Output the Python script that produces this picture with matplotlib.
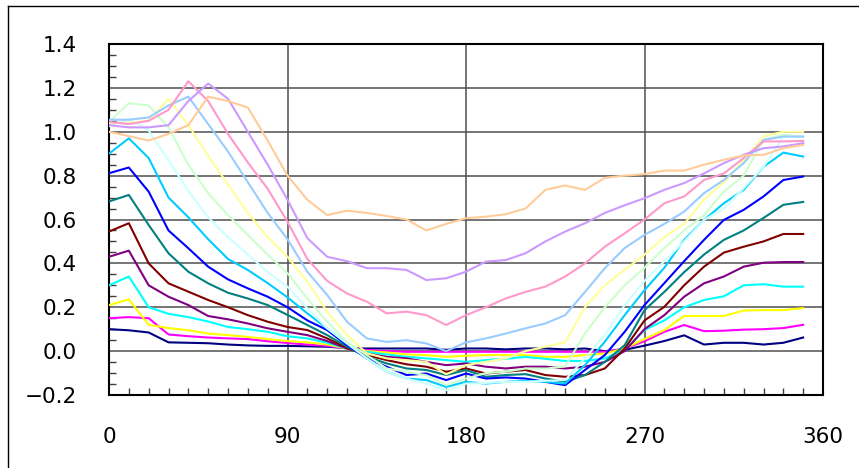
import numpy as np
import matplotlib
matplotlib.use("Agg")
import matplotlib.pyplot as plt
from matplotlib.lines import Line2D
from matplotlib.ticker import MultipleLocator

plt.rcParams['font.family'] = ['DejaVu Sans']

# angle in degrees, one sample every 10 degrees
angle = list(range(0, 360, 10))

navy = [0.10, 0.095, 0.085, 0.04, 0.038, 0.036, 0.03, 0.026, 0.024, 0.024, 0.022, 0.02,
        0.014, 0.012, 0.012, 0.012, 0.012, 0.006, 0.012, 0.012, 0.008, 0.012, 0.012, 0.008,
        0.012, 0.0, 0.006, 0.025, 0.046, 0.072, 0.03, 0.038, 0.038, 0.03, 0.038, 0.062]
magenta = [0.15, 0.155, 0.15, 0.076, 0.068, 0.062, 0.058, 0.055, 0.045, 0.037, 0.03, 0.024,
           0.012, 0.005, 0.0, -0.003, -0.003, -0.003, -0.003, -0.003, -0.003, -0.003, -0.003, -0.003,
           -0.003, -0.003, 0.012, 0.045, 0.088, 0.119, 0.091, 0.093, 0.098, 0.10, 0.105, 0.12]
yellow = [0.21, 0.236, 0.12, 0.105, 0.095, 0.08, 0.073, 0.065, 0.055, 0.046, 0.04, 0.03,
          0.012, 0.0, -0.006, -0.015, -0.018, -0.026, -0.021, -0.018, -0.018, -0.018, -0.026, -0.026,
          -0.018, -0.011, 0.012, 0.055, 0.096, 0.16, 0.16, 0.16, 0.185, 0.187, 0.187, 0.196]
cyan = [0.30, 0.34, 0.20, 0.17, 0.155, 0.135, 0.11, 0.10, 0.088, 0.068, 0.058, 0.038,
        0.012, -0.003, -0.015, -0.026, -0.033, -0.041, -0.049, -0.041, -0.035, -0.026, -0.035, -0.045,
        -0.045, -0.033, 0.005, 0.096, 0.14, 0.20, 0.233, 0.25, 0.30, 0.305, 0.294, 0.294]
purple = [0.43, 0.458, 0.30, 0.248, 0.21, 0.16, 0.145, 0.126, 0.104, 0.088, 0.073, 0.046,
          0.012, -0.011, -0.026, -0.033, -0.049, -0.064, -0.056, -0.071, -0.079, -0.071, -0.071, -0.079,
          -0.071, -0.049, 0.0, 0.10, 0.164, 0.248, 0.309, 0.34, 0.385, 0.403, 0.406, 0.406]
dark_red = [0.545, 0.583, 0.40, 0.309, 0.271, 0.233, 0.20, 0.164, 0.134, 0.11, 0.096, 0.058,
            0.015, -0.018, -0.041, -0.06, -0.071, -0.094, -0.079, -0.102, -0.094, -0.086, -0.109, -0.117,
            -0.109, -0.079, 0.012, 0.14, 0.202, 0.30, 0.385, 0.449, 0.476, 0.50, 0.534, 0.534]
teal = [0.682, 0.712, 0.575, 0.446, 0.362, 0.309, 0.266, 0.24, 0.21, 0.165, 0.119, 0.073,
        0.02, -0.026, -0.056, -0.079, -0.086, -0.109, -0.086, -0.117, -0.109, -0.105, -0.125, -0.14,
        -0.109, -0.049, 0.027, 0.187, 0.27, 0.36, 0.44, 0.507, 0.55, 0.607, 0.667, 0.68]
blue = [0.811, 0.837, 0.727, 0.55, 0.469, 0.385, 0.327, 0.286, 0.248, 0.2, 0.14, 0.096,
        0.027, -0.033, -0.071, -0.109, -0.102, -0.132, -0.102, -0.125, -0.12, -0.125, -0.14, -0.155,
        -0.086, -0.018, 0.088, 0.21, 0.31, 0.41, 0.507, 0.598, 0.644, 0.705, 0.78, 0.796]
sky_blue = [0.90, 0.97, 0.88, 0.70, 0.61, 0.51, 0.42, 0.37, 0.31, 0.245, 0.172, 0.103,
            0.035, -0.033, -0.094, -0.125, -0.132, -0.163, -0.14, -0.148, -0.14, -0.135, -0.14, -0.148,
            -0.064, 0.043, 0.164, 0.278, 0.38, 0.507, 0.598, 0.674, 0.735, 0.84, 0.905, 0.887]
light_turquoise = [1.025, 1.06, 1.005, 0.87, 0.73, 0.61, 0.52, 0.44, 0.36, 0.294, 0.195, 0.104,
                   0.035, -0.033, -0.094, -0.125, -0.148, -0.178, -0.148, -0.145, -0.14, -0.14, -0.135, -0.132,
                   -0.033, 0.073, 0.21, 0.32, 0.41, 0.50, 0.598, 0.65, 0.743, 0.84, 0.978, 0.978]
light_green = [1.045, 1.13, 1.12, 1.02, 0.85, 0.72, 0.62, 0.53, 0.44, 0.355, 0.24, 0.134,
               0.042, -0.018, -0.079, -0.094, -0.11, -0.155, -0.125, -0.10, -0.094, -0.079, -0.08, -0.07,
               0.08, 0.2, 0.3, 0.38, 0.47, 0.55, 0.62, 0.727, 0.80, 0.963, 0.986, 0.978]
light_yellow = [1.04, 1.04, 1.05, 1.15, 1.03, 0.89, 0.76, 0.63, 0.52, 0.43, 0.316, 0.18,
                0.073, -0.01, -0.033, -0.041, -0.049, -0.106, -0.064, -0.049, -0.033, 0.0, 0.02, 0.04,
                0.2, 0.3, 0.37, 0.44, 0.52, 0.58, 0.69, 0.77, 0.87, 0.98, 1.0, 1.0]
pale_blue = [1.055, 1.055, 1.065, 1.12, 1.16, 1.035, 0.91, 0.77, 0.63, 0.51, 0.362, 0.256,
             0.134, 0.058, 0.042, 0.05, 0.035, 0.0, 0.04, 0.058, 0.08, 0.104, 0.126, 0.164,
             0.27, 0.378, 0.47, 0.53, 0.58, 0.636, 0.72, 0.78, 0.857, 0.963, 0.978, 0.978]
rose = [1.045, 1.035, 1.05, 1.10, 1.23, 1.14, 0.99, 0.86, 0.74, 0.59, 0.42, 0.32,
        0.263, 0.225, 0.172, 0.18, 0.164, 0.119, 0.164, 0.20, 0.24, 0.27, 0.294, 0.34,
        0.40, 0.476, 0.537, 0.60, 0.674, 0.705, 0.78, 0.81, 0.88, 0.956, 0.956, 0.958]
lavender = [1.03, 1.02, 1.02, 1.03, 1.14, 1.22, 1.15, 1.0, 0.85, 0.69, 0.515, 0.43,
            0.41, 0.378, 0.378, 0.37, 0.324, 0.332, 0.362, 0.408, 0.415, 0.446, 0.50, 0.545,
            0.583, 0.63, 0.665, 0.697, 0.735, 0.766, 0.81, 0.857, 0.895, 0.925, 0.933, 0.948]
tan = [1.0, 0.98, 0.96, 0.99, 1.03, 1.16, 1.14, 1.11, 0.96, 0.80, 0.69, 0.62,
       0.64, 0.63, 0.616, 0.60, 0.55, 0.58, 0.606, 0.613, 0.624, 0.65, 0.735, 0.755,
       0.735, 0.79, 0.80, 0.807, 0.823, 0.823, 0.85, 0.872, 0.892, 0.895, 0.925, 0.94]

series = [navy, magenta, yellow, cyan, purple, dark_red, teal, blue, sky_blue,
          light_turquoise, light_green, light_yellow, pale_blue, rose, lavender, tan]
colors = ['#000080', '#FF00FF', '#FFFF00', '#00FFFF', '#800080', '#800000', '#008080', '#0000FF',
          '#00CCFF', '#CCFFFF', '#CCFFCC', '#FFFF99', '#99CCFF', '#FF99CC', '#CC99FF', '#FFCC99']

fig = plt.figure(figsize=(8.59, 4.68), dpi=100)
ax = fig.add_axes([109 / 859, 1 - 395 / 468, 714 / 859, 351 / 468])

for values, c in zip(series, colors):
    ax.plot(angle, values, color=c, lw=1.5, zorder=3)

ax.set_xlim(0, 360)
ax.set_ylim(-0.2, 1.4)
ax.xaxis.set_major_locator(MultipleLocator(90))
ax.xaxis.set_minor_locator(MultipleLocator(10))
ax.yaxis.set_major_locator(MultipleLocator(0.2))
ax.yaxis.set_minor_locator(MultipleLocator(0.05))
ax.yaxis.set_major_formatter(lambda v, p: f"{v:.1f}".replace('-', '\u2212'))

ax.grid(True, which='major', color='#505050', lw=1.1, zorder=1)
ax.tick_params(which='both', direction='in', color='black', labelsize=15.5)
ax.tick_params(which='major', length=0)
ax.tick_params(axis='y', which='major', pad=23)
ax.tick_params(axis='x', which='major', pad=23)
ax.tick_params(which='minor', length=5, width=1, colors='#404040')
for side in ['left', 'bottom', 'top', 'right']:
    ax.spines[side].set_linewidth(1.5)
    ax.spines[side].set_color('black')

# chart area border
fig.add_artist(Line2D([8 / 859, 8 / 859], [0, 1 - 6 / 468], color='black', lw=1))
fig.add_artist(Line2D([8 / 859, 1], [1 - 6 / 468, 1 - 6 / 468], color='black', lw=1))

fig.savefig("out.png", dpi=100)
